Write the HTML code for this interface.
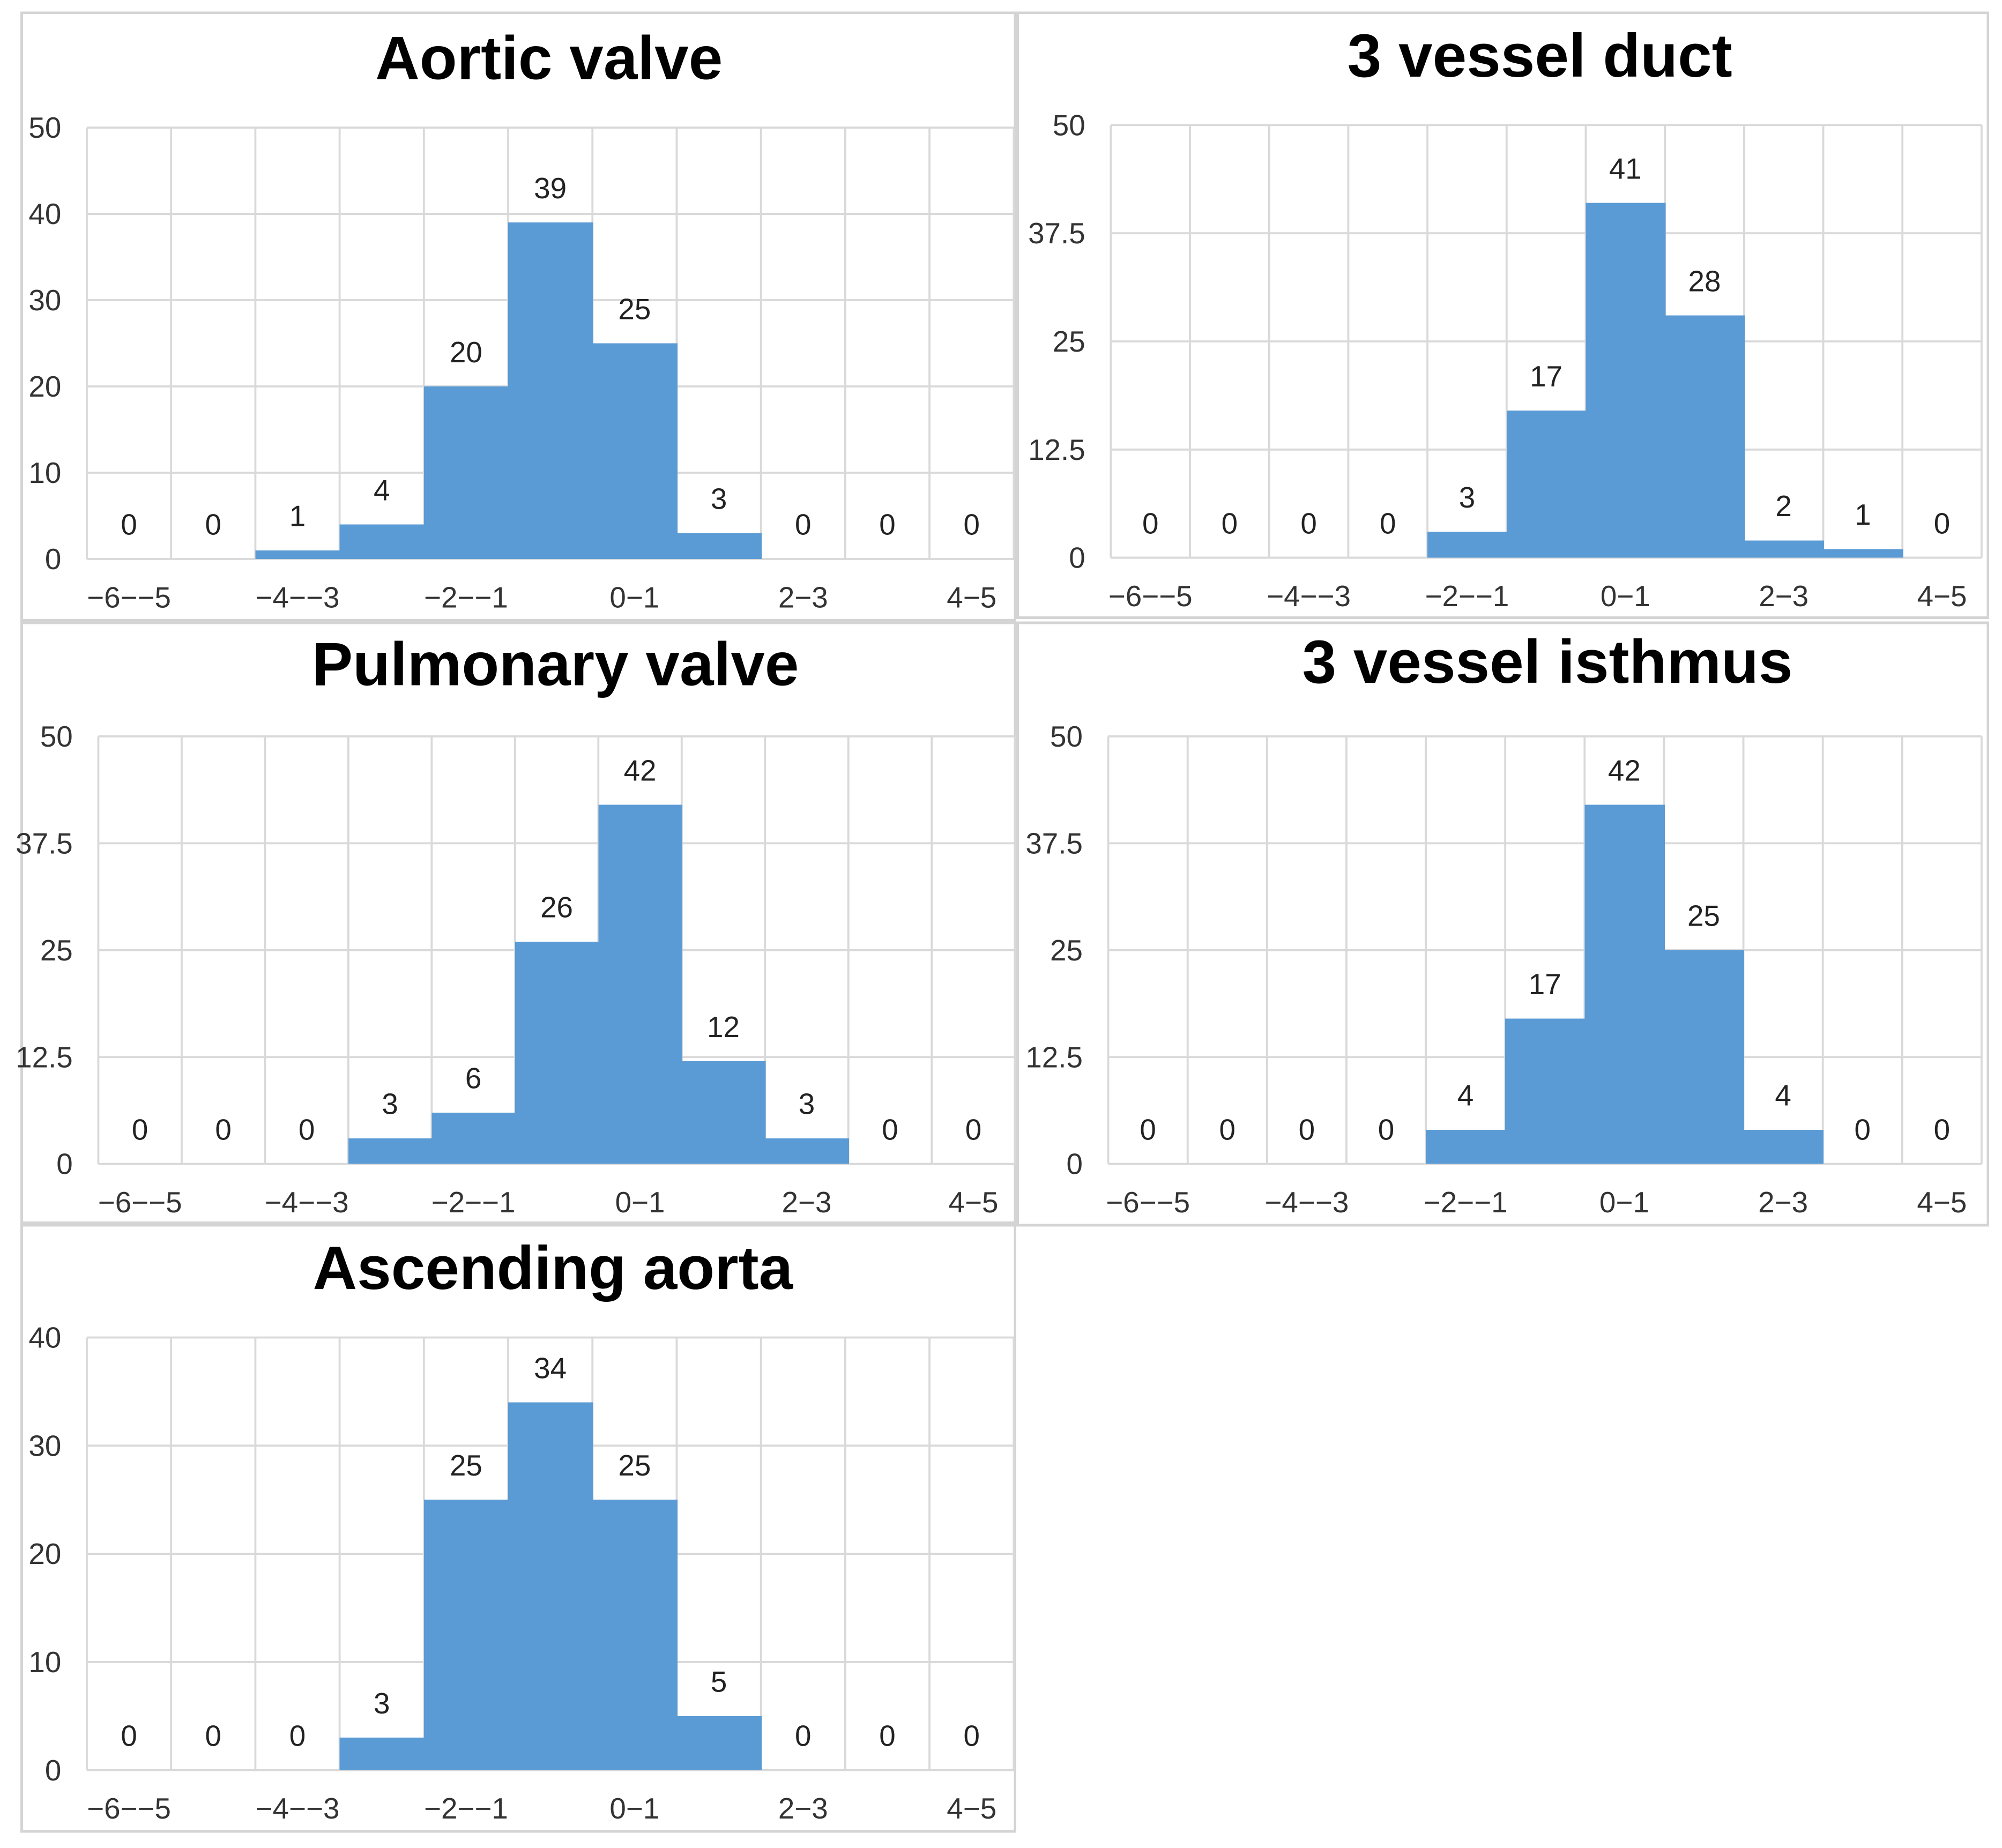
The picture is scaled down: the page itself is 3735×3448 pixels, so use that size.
<!DOCTYPE html>
<html><head><meta charset="utf-8"><style>
html,body{margin:0;padding:0;background:#fff}
svg{display:block}
text{font-family:"Liberation Sans",Arial,sans-serif}
rect{shape-rendering:crispEdges}
</style></head><body>
<svg id="root" width="3735" height="3448" viewBox="0 0 1568 1448" preserveAspectRatio="none" xmlns="http://www.w3.org/2000/svg"></svg>
<script>
const categories = ["−6–−5","−5–−4","−4–−3","−3–−2","−2–−1","−1–0","0–1","1–2","2–3","3–4","4–5"];
const xTickLabels = ["−6−−5","","−4−−3","","−2−−1","","0−1","","2−3","","4−5"];
const aorticValve = [0,0,1,4,20,39,25,3,0,0,0];
const vesselDuct = [0,0,0,0,3,17,41,28,2,1,0];
const pulmonaryValve = [0,0,0,3,6,26,42,12,3,0,0];
const vesselIsthmus = [0,0,0,0,4,17,42,25,4,0,0];
const ascendingAorta = [0,0,0,3,25,34,25,5,0,0,0];
const ticksTen = [0,10,20,30,40,50];
const ticksQuarter = [0,12.5,25,37.5,50];
const ticksForty = [0,10,20,30,40];

const NS = "http://www.w3.org/2000/svg";
const root = document.getElementById('root');
function mk(tag, attrs, parent){
  const e = document.createElementNS(NS, tag);
  for (const k in attrs) e.setAttribute(k, attrs[k]);
  parent.appendChild(e);
  return e;
}
const panels = [
  {name:"aortic-valve", title:"Aortic valve", data:aorticValve, ticks:ticksTen, max:50,
   box:[17,10,778,476], plot:[68,100,794,438], titleX:430, titleY:62},
  {name:"3-vessel-duct", title:"3 vessel duct", data:vesselDuct, ticks:ticksQuarter, max:50,
   box:[797,10,760,474], plot:[870,98,1552,437], titleX:1206, titleY:60},
  {name:"pulmonary-valve", title:"Pulmonary valve", data:pulmonaryValve, ticks:ticksQuarter, max:50,
   box:[17,488,778,470], plot:[77,577,795,912], titleX:435, titleY:537},
  {name:"3-vessel-isthmus", title:"3 vessel isthmus", data:vesselIsthmus, ticks:ticksQuarter, max:50,
   box:[797,488,760,472], plot:[868,577,1552,912], titleX:1212, titleY:535},
  {name:"ascending-aorta", title:"Ascending aorta", data:ascendingAorta, ticks:ticksForty, max:40,
   box:[17,960,778,475], plot:[68,1048,794,1387], titleX:433, titleY:1010}
];
panels.forEach(p => {
  const g = mk('g', {}, root);
  
  
  const [bx,by,bw,bh] = p.box;
  const border = mk('rect', {x:bx,y:by,width:bw,height:bh,fill:'none',stroke:'#d4d4d4','stroke-width':2}, g);
  
  
  const t = mk('text', {x:p.titleX,y:p.titleY,'text-anchor':'middle','font-size':48,'font-weight':'bold',fill:'#000'}, g);
  t.textContent = p.title;
  
  
  const [x0,y0,x1,y1] = p.plot;
  const cw = (x1-x0)/categories.length;
  const xs = i => x0 + i*cw;
  const ys = v => y1 - v/p.max*(y1-y0);
  p.ticks.forEach(tv => {
    const l = mk('line', {x1:x0,x2:x1,y1:ys(tv),y2:ys(tv),stroke:'#d9d9d9','stroke-width':1.6}, g);
    
    
    const lab = mk('text', {x:x0-20,y:ys(tv)+8,'text-anchor':'end','font-size':23,fill:'#333'}, g);
    lab.textContent = String(tv);
    
    
  });
  for (let i=0;i<=categories.length;i++){
    const l = mk('line', {x1:xs(i),x2:xs(i),y1:y0,y2:y1,stroke:'#d9d9d9','stroke-width':1.6}, g);
    
    
  }
  p.data.forEach((v,i) => {
    if (v > 0){
      const r = mk('rect', {x:xs(i),y:ys(v),width:cw+0.6,height:y1-ys(v),fill:'#5b9bd5'}, g);
      
      
    }
    const lab = mk('text', {x:xs(i)+cw/2,y:ys(v)-19,'text-anchor':'middle','font-size':23,fill:'#222'}, g);
    lab.textContent = String(v);
    
    
  });
  xTickLabels.forEach((s,i) => {
    if (!s) return;
    const lab = mk('text', {x:xs(i)+cw/2,y:y1+38,'text-anchor':'middle','font-size':23,fill:'#333'}, g);
    lab.textContent = s;
    
    
  });
});
</script>
</body></html>
